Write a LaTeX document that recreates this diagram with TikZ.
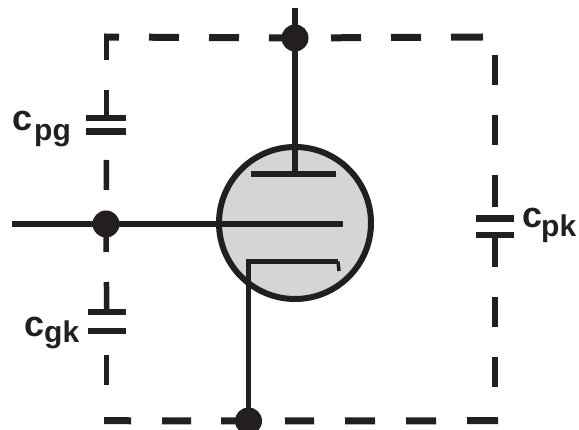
\documentclass[tikz,border=0pt]{standalone}
\usepackage{fontspec}
\setmainfont{Liberation Sans}
\definecolor{ink}{HTML}{231F20}
\definecolor{glass}{HTML}{D3D5D7}
\tikzset{
  junction/.style={circle,fill=ink,draw=none,minimum size=27pt,inner sep=0pt},
  wire/.style={draw=ink,line width=6.5pt},
  thinwire/.style={draw=ink,line width=5.5pt},
  tube/.style={circle,draw=ink,fill=glass,line width=6pt,minimum size=152pt,inner sep=0pt},
  stray/.style={draw=ink,line width=#1},
  plate/.style={draw=ink,line width=#1},
  lab/.style={inner sep=0pt,anchor=base west,text=ink,font=\bfseries\fontsize{30}{30}\selectfont},
  bigc/.style={inner sep=0pt,anchor=base west,text=ink,font=\bfseries\fontsize{36}{36}\selectfont}
}
\begin{document}
\begin{tikzpicture}[x=1pt,y=-1pt]
\useasboundingbox (0,0) rectangle (579,430);
\fill[white] (0,0) rectangle (579,430);
% tube
\node[tube] (valve) at (295,223) {};
% junctions
\node[junction] (topdot) at (295,38) {};
\node[junction] (griddot) at (106,224) {};
\node[junction] (botdot) at (248.5,421) {};
% free ends and corners
\coordinate (topend) at (295,8);
\coordinate (gridin) at (12,224);
\coordinate (gridend) at (343,224);
\coordinate (anode) at (295,174);
\coordinate (anL) at (251,174);
\coordinate (anR) at (336,174);
\coordinate (catL) at (248.5,261.5);
\coordinate (catR) at (338,261.5);
\coordinate (catT) at (339,271);
\coordinate (tl) at (106.7,37);
\coordinate (bl) at (106.7,420.7);
\coordinate (tr) at (495,37);
\coordinate (br) at (495,420.7);
% capacitor plate centres
\coordinate (pgA) at (106.7,118);
\coordinate (pgB) at (106.7,132);
\coordinate (gkA) at (106.7,312);
\coordinate (gkB) at (106.7,331);
\coordinate (pkA) at (495,218.5);
\coordinate (pkB) at (495,235);
% capacitor plates
\draw[plate=5.5pt] ([xshift=-20.5pt]pgA) -- ([xshift=19.5pt]pgA);
\draw[plate=7pt] ([xshift=-20.5pt]pgB) -- ([xshift=19.5pt]pgB);
\draw[plate=6pt] ([xshift=-19pt]gkA) -- ([xshift=19.5pt]gkA);
\draw[plate=6pt] ([xshift=-19pt]gkB) -- ([xshift=19.5pt]gkB);
\draw[plate=6.5pt] ([xshift=-19.5pt]pkA) -- ([xshift=18.5pt]pkA);
\draw[plate=6.5pt] ([xshift=-19.5pt]pkB) -- ([xshift=18.5pt]pkB);
% stray capacitance connectors
\draw[stray=7pt,dash pattern=on 30pt off 30pt,dash phase=4pt] (topdot.center) -- ([xshift=-2.5pt]tl);
\draw[stray=5.5pt,dash pattern=on 20pt off 30pt on 31pt off 100pt] ([yshift=-3pt]tl) -- (pgA);
\draw[stray=5.5pt,dash pattern=on 0pt off 28pt on 30pt off 100pt] (pgB) -- (griddot.center);
\draw[stray=5.5pt,dash pattern=on 28pt off 30pt on 30pt off 100pt] (griddot.center) -- (gkA);
\draw[stray=5.5pt,dash pattern=on 0pt off 24pt on 30pt off 100pt] (gkB) -- ([yshift=-5pt]bl);
\draw[stray=7pt,dash pattern=on 27pt off 31pt on 29pt off 30pt on 27pt off 100pt] ([xshift=-2.5pt]bl) -- (botdot.center);
\draw[stray=7pt,dash pattern=on 0pt off 36.5pt on 29pt off 31pt on 30pt off 31pt on 30pt off 31pt on 31pt off 100pt] (botdot.center) -- ([xshift=3pt]br);
\draw[stray=6.5pt,dash pattern=on 0pt off 34pt on 30pt off 30pt on 30pt off 30pt on 32pt off 100pt] (br) -- (pkB);
\draw[stray=6.5pt,dash pattern=on 0pt off 11pt on 32pt off 30pt on 30pt off 30pt on 30pt off 100pt] (pkA) -- ([yshift=18pt]tr);
\draw[stray=7pt,dash pattern=on 32pt off 30pt on 30pt off 30pt on 30pt off 36pt on 30pt off 100pt] ([xshift=-12pt]tr) -- (topdot.center);
% valve electrodes
\draw[wire] (topend) -- (topdot.center) -- (anode);
\draw[thinwire] (anL) -- (anR);
\draw[wire,line width=6pt] (gridin) -- (griddot.center) -- (gridend);
\draw[draw=ink,line width=5.5pt] (botdot.center) -- (catL) -- (catR);
\draw[draw=ink,line width=3.5pt] (catR) -- (catT);
% labels
\node[bigc] (c1) at (12,131) {c};
\node[lab] (s1) at (34,141) {pg};
\node[bigc] (c2) at (24,337) {c};
\node[lab] (s2) at (44,343) {gk};
\node[bigc] (c3) at (522,228) {c};
\node[lab] (s3) at (541,237) {pk};
\end{tikzpicture}
\end{document}
